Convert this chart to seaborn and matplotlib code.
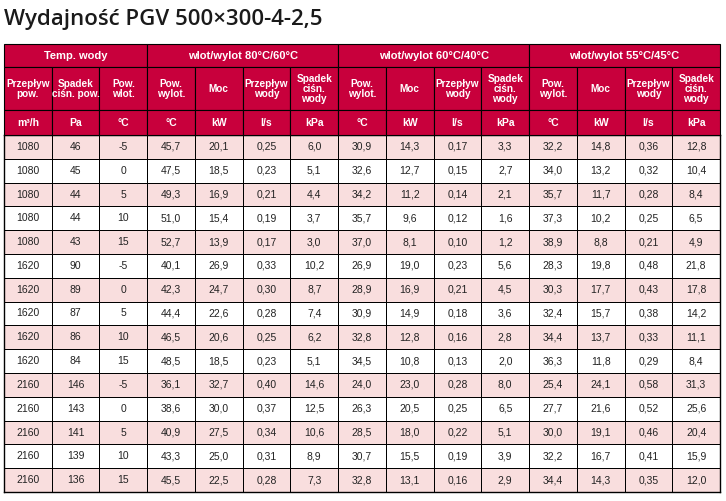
import matplotlib
matplotlib.use("Agg")
import matplotlib.pyplot as plt
import seaborn as sns
import numpy as np
import pandas as pd
from matplotlib.patches import Rectangle

# table data
przeplyw = [1080]*5 + [1620]*5 + [2160]*5
spadek_pow = [46, 45, 44, 44, 43, 90, 89, 87, 86, 84, 146, 143, 141, 139, 136]
t_wlot = [-5, 0, 5, 10, 15] * 3
t80 = ["45,7", "47,5", "49,3", "51,0", "52,7", "40,1", "42,3", "44,4", "46,5", "48,5", "36,1", "38,6", "40,9", "43,3", "45,5"]
moc80 = ["20,1", "18,5", "16,9", "15,4", "13,9", "26,9", "24,7", "22,6", "20,6", "18,5", "32,7", "30,0", "27,5", "25,0", "22,5"]
q80 = ["0,25", "0,23", "0,21", "0,19", "0,17", "0,33", "0,30", "0,28", "0,25", "0,23", "0,40", "0,37", "0,34", "0,31", "0,28"]
dp80 = ["6,0", "5,1", "4,4", "3,7", "3,0", "10,2", "8,7", "7,4", "6,2", "5,1", "14,6", "12,5", "10,6", "8,9", "7,3"]
t60 = ["30,9", "32,6", "34,2", "35,7", "37,0", "26,9", "28,9", "30,9", "32,8", "34,5", "24,0", "26,3", "28,5", "30,7", "32,8"]
moc60 = ["14,3", "12,7", "11,2", "9,6", "8,1", "19,0", "16,9", "14,9", "12,8", "10,8", "23,0", "20,5", "18,0", "15,5", "13,1"]
q60 = ["0,17", "0,15", "0,14", "0,12", "0,10", "0,23", "0,21", "0,18", "0,16", "0,13", "0,28", "0,25", "0,22", "0,19", "0,16"]
dp60 = ["3,3", "2,7", "2,1", "1,6", "1,2", "5,6", "4,5", "3,6", "2,8", "2,0", "8,0", "6,5", "5,1", "3,9", "2,9"]
t55 = ["32,2", "34,0", "35,7", "37,3", "38,9", "28,3", "30,3", "32,4", "34,4", "36,3", "25,4", "27,7", "30,0", "32,2", "34,4"]
moc55 = ["14,8", "13,2", "11,7", "10,2", "8,8", "19,8", "17,7", "15,7", "13,7", "11,8", "24,1", "21,6", "19,1", "16,7", "14,3"]
q55 = ["0,36", "0,32", "0,28", "0,25", "0,21", "0,48", "0,43", "0,38", "0,33", "0,29", "0,58", "0,52", "0,46", "0,41", "0,35"]
dp55 = ["12,8", "10,4", "8,4", "6,5", "4,9", "21,8", "17,8", "14,2", "11,1", "8,4", "31,3", "25,6", "20,4", "15,9", "12,0"]

group_labels = ["Temp. wody", "wlot/wylot 80°C/60°C", "wlot/wylot 60°C/40°C", "wlot/wylot 55°C/45°C"]
col_labels = ["Przepływ\npow.", "Spadek\nciśn. pow.", "Pow.\nwlot."] + ["Pow.\nwylot.", "Moc", "Przepływ\nwody", "Spadek\nciśn.\nwody"] * 3
unit_labels = ["m³/h", "Pa", "°C"] + ["°C", "kW", "l/s", "kPa"] * 3

RED = "#C8003C"
PINK = "#F9DEDE"

cols = [przeplyw, spadek_pow, t_wlot, t80, moc80, q80, dp80, t60, moc60, q60, dp60, t55, moc55, q55, dp55]
annot = np.array([[str(v) for v in c] for c in cols]).T
stripe = np.array([[1 - (i % 2)] * len(cols) for i in range(len(przeplyw))])

W, H = 726, 501
x0, x1 = 4, 720
y_h1, y_h2, y_u, y_b, y_end = 44, 67, 110, 135, 492
cw = (x1 - x0) / len(cols)

fig = plt.figure(figsize=(W / 100, H / 100), dpi=100)

# body as heatmap
axb = fig.add_axes([x0 / W, 1 - y_end / H, (x1 - x0) / W, (y_end - y_b) / H])
sns.heatmap(stripe, ax=axb, cmap=matplotlib.colors.ListedColormap(["white", PINK]),
            annot=annot, fmt="", cbar=False, linewidths=0.7, linecolor="black",
            annot_kws={"fontsize": 7.5, "color": "#222222", "family": "Liberation Sans"})
axb.set_xticks([]); axb.set_yticks([])
for s in axb.spines.values():
    s.set_visible(True); s.set_linewidth(1.0)

# header in pixel coords
ax = fig.add_axes([0, 0, 1, 1])
ax.set_xlim(0, W); ax.set_ylim(H, 0); ax.axis("off")

def cell(x, y, w, h, text, size=7.5):
    ax.add_patch(Rectangle((x, y), w, h, facecolor=RED, edgecolor="black", lw=0.8))
    ax.text(x + w / 2, y + h / 2, text, ha="center", va="center", color="white",
            fontsize=size, fontweight="bold", family="Liberation Sans", linespacing=1.0)

spans = [3, 4, 4, 4]
c = 0
for lab, n in zip(group_labels, spans):
    cell(x0 + c * cw, y_h1, n * cw, y_h2 - y_h1, lab, 8)
    c += n
for i, (lab, u) in enumerate(zip(col_labels, unit_labels)):
    cell(x0 + i * cw, y_h2, cw, y_u - y_h2, lab, 7.2)
    cell(x0 + i * cw, y_u, cw, y_b - y_u, u, 7.5)

ax.text(4, 19, "Wydajność PGV 500×300-4-2,5", fontsize=16, va="center", ha="left",
        family="Open Sans", fontweight="semibold", color="#1a1a1a")

fig.savefig("out.png", dpi=100)
